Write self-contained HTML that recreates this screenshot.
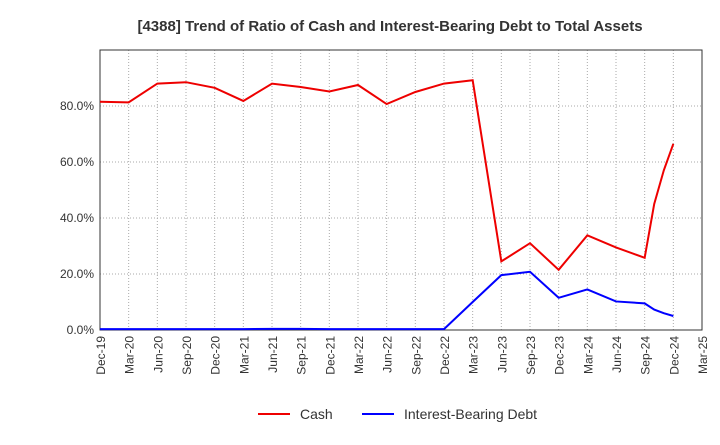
<!DOCTYPE html>
<html><head><meta charset="utf-8"><style>
body{margin:0;background:#fff;font-family:"Liberation Sans",sans-serif}
</style></head><body>
<svg width="720" height="440" xmlns="http://www.w3.org/2000/svg" font-family="Liberation Sans, sans-serif">
<text x="390" y="31" text-anchor="middle" font-size="15" font-weight="bold" fill="#333">[4388]  Trend of Ratio of Cash and Interest-Bearing Debt to Total Assets</text>
<g id="grid"></g><g id="axes"></g><g id="series"></g>
<g>
<line x1="258" y1="414" x2="290" y2="414" stroke="#e00" stroke-width="2"/>
<text x="300" y="419" font-size="14" fill="#333">Cash</text>
<line x1="362" y1="414" x2="394" y2="414" stroke="#00f" stroke-width="2"/>
<text x="404" y="419" font-size="14" fill="#333">Interest-Bearing Debt</text>
</g>
</svg>
<script>
const xLabels=["Dec-19","Mar-20","Jun-20","Sep-20","Dec-20","Mar-21","Jun-21","Sep-21","Dec-21","Mar-22","Jun-22","Sep-22","Dec-22","Mar-23","Jun-23","Sep-23","Dec-23","Mar-24","Jun-24","Sep-24","Dec-24","Mar-25"];
const yTicks=[0,20,40,60,80];
const pointIdx=[0,1,2,3,4,5,6,7,8,9,10,11,12,13,14,15,16,17,18,19,19.333,19.667,20];
const cashValues=[81.5,81.3,88,88.5,86.5,81.8,88,86.8,85.2,87.5,80.7,85,88,89.2,24.5,31,21.5,33.8,29.5,25.8,45,57,66.5];
const debtValues=[0.3,0.3,0.3,0.3,0.3,0.3,0.4,0.4,0.3,0.3,0.3,0.3,0.3,10,19.6,20.8,11.5,14.5,10.2,9.5,7.3,6,5];
const L=100,R=702,T=50,B=330,ns="http://www.w3.org/2000/svg";
const xs=i=>L+(R-L)*i/(xLabels.length-1);
const ys=v=>B-(B-T)*v/100;
function mk(t,a,p){const e=document.createElementNS(ns,t);for(const k in a)e.setAttribute(k,a[k]);p.appendChild(e);return e;}
const grid=document.getElementById('grid'),axes=document.getElementById('axes'),ser=document.getElementById('series');
mk('rect',{x:L,y:T,width:R-L,height:B-T,fill:'none',stroke:'#333','stroke-width':1},axes);
xLabels.forEach((lb,i)=>{const x=xs(i);
 if(i>0&&i<xLabels.length-1){const g=mk('line',{x1:x,y1:T,x2:x,y2:B,stroke:'#aaa','stroke-dasharray':'1,2'},grid);
 
 }
 const t=mk('text',{transform:`translate(${x+5},${B+6}) rotate(-90)`,'text-anchor':'end','font-size':12,fill:'#333'},axes);t.textContent=lb;
 
 });
yTicks.forEach(v=>{const y=ys(v);
 if(v>0){const g=mk('line',{x1:L,y1:y,x2:R,y2:y,stroke:'#aaa','stroke-dasharray':'1,2'},grid);
 
 }
 const t=mk('text',{x:L-6,y:y+4,'text-anchor':'end','font-size':12,fill:'#333'},axes);t.textContent=v.toFixed(1)+'%';
 
 });
function line(vals,col,name){const p=mk('polyline',{points:vals.map((v,i)=>xs(pointIdx[i])+','+ys(v)).join(' '),fill:'none',stroke:col,'stroke-width':2},ser);
 
 }
line(cashValues,'#e00','cash-line');
line(debtValues,'#00f','debt-line');
</script>
</body></html>
